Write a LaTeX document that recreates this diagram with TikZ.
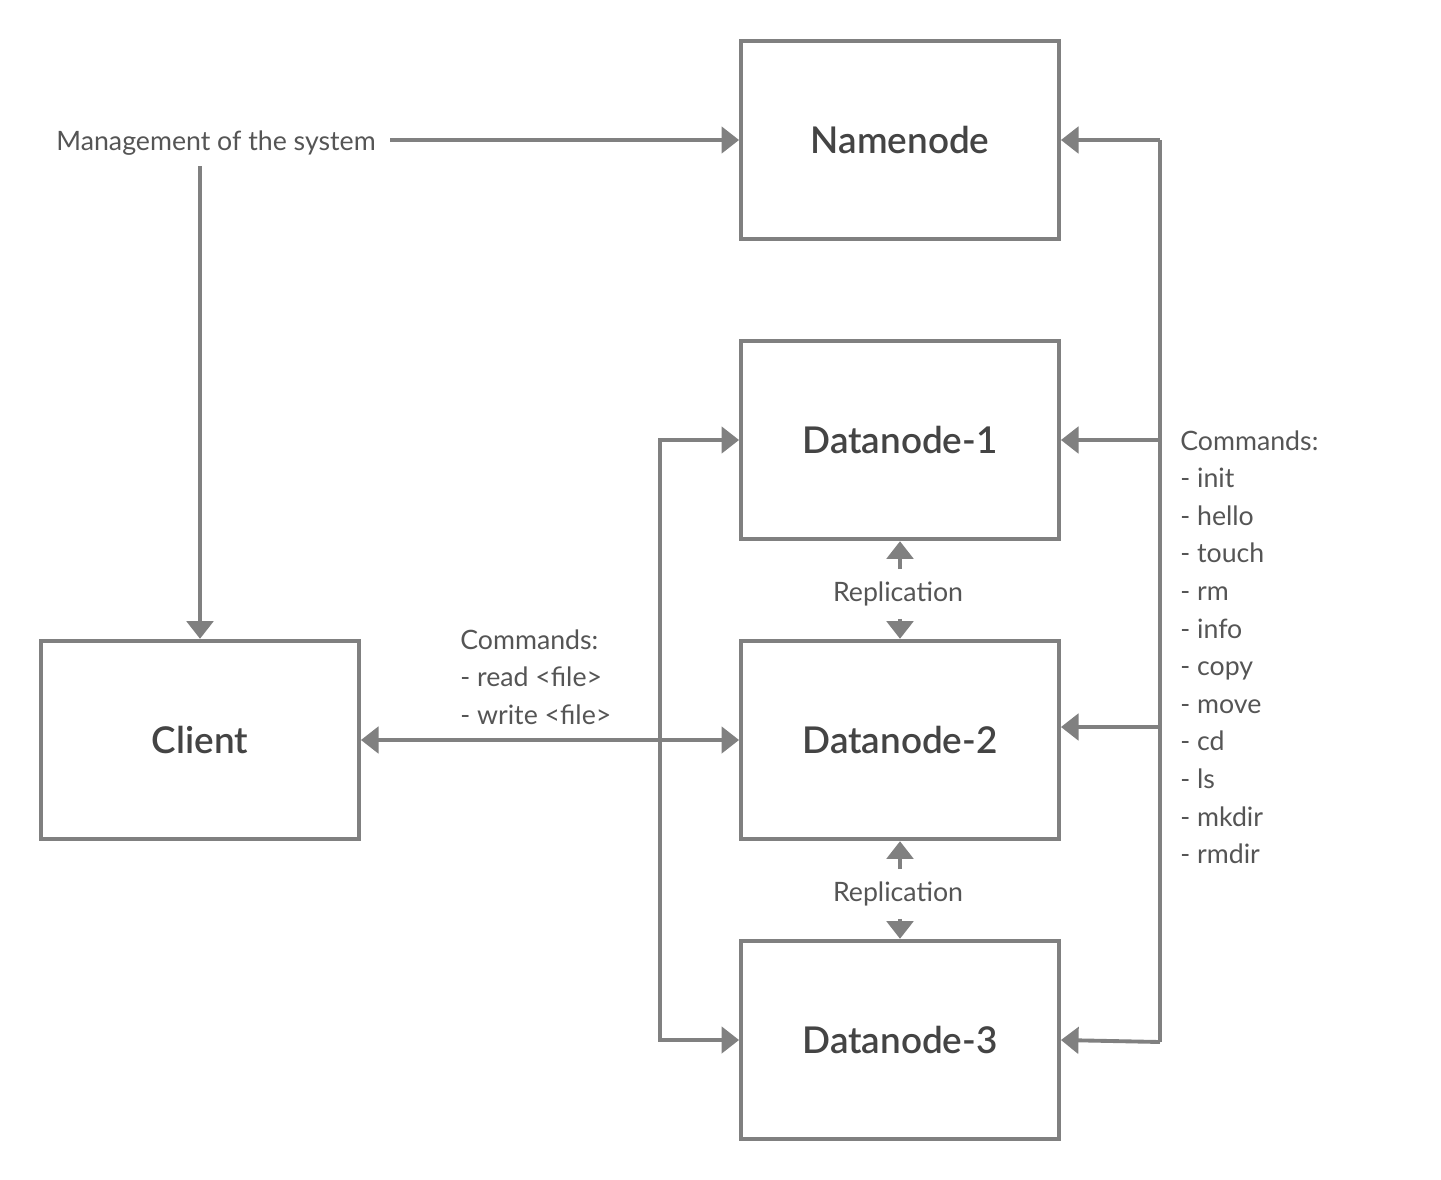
\documentclass[tikz,border=0pt]{standalone}
\usepackage{fontspec}
\setmainfont{Lato}
\newfontface\semibold{Lato Semibold}
\usetikzlibrary{arrows.meta}

\definecolor{linegray}{HTML}{808080}
\definecolor{textgray}{HTML}{444444}
\definecolor{lblgray}{HTML}{555555}

\tikzset{
  box/.style={draw=linegray, line width=2.2pt, minimum width=181pt, minimum height=113pt,
    inner sep=0pt, text=textgray, font=\fontsize{21}{25}\semibold},
  lbl/.style={text=lblgray, font=\fontsize{15.2}{21.4}\selectfont, inner sep=0pt},
  conn/.style={draw=linegray, line width=2.2pt, arrows={-Triangle[length=10pt, width=15pt]}},
  both/.style={draw=linegray, line width=2.2pt, arrows={Triangle[length=10pt, width=15pt]-Triangle[length=10pt, width=15pt]}},
}

\begin{document}
\begin{tikzpicture}[x=0.02cm, y=-0.02cm]
      \useasboundingbox (0,0) rectangle (1441,1180);
      % boxes
      \node[box] (nn) at (900, 140) {Namenode};
      \node[box] (dn1) at (900, 440) {Datanode-1};
      \node[box] (dn2) at (900, 740) {Datanode-2};
      \node[box] (dn3) at (900, 1040) {Datanode-3};
      \node[box] (cl) at (200, 740) {Client};
      % labels
      \node[lbl] (mgmt) at (216, 143) {Management of the system};
      \node[lbl] (rep1) at (898, 594) {Replication};
      \node[lbl] (rep2) at (898, 894) {Replication};
      \node[lbl, anchor=north west, align=left] (cmdl) at (460, 629) {Commands:\\- read <file>\\- write <file>};
      \node[lbl, anchor=north west, align=left] (cmdr) at (1180, 430)
        {Commands:\\- init\\- hello\\- touch\\- rm\\- info\\- copy\\- move\\- cd\\- ls\\- mkdir\\- rmdir};
      % corner points
      \coordinate (l1) at (660, 440);
      \coordinate (l3) at (660, 1040);
      \coordinate (r0) at (1160, 140);
      \coordinate (r1) at (1160, 440);
      \coordinate (r2) at (1160, 727);
      \coordinate (r3) at (1160, 1042);
      % connectors
      \draw[conn] ([xshift=8pt]mgmt.east |- nn.west) -- (nn.west);
      \draw[conn] ([yshift=-6pt]mgmt.south -| cl.north) -- (cl.north);
      \draw[both] (cl.east) -- (dn2.west);
      \draw[both] (dn1.west) -- (l1) -- (l3) -- (dn3.west);
      \draw[draw=linegray, line width=2.2pt] (r0) -- (r3);
      \draw[conn] (r0) -- (nn.east);
      \draw[conn] (r1) -- (dn1.east);
      \draw[conn] (r2) -- (r2 -| dn2.east);
      \draw[conn] (r3) -- (dn3.east);
      \draw[conn] ([yshift=7pt]rep1.north -| dn1.south) -- (dn1.south);
      \draw[conn] ([yshift=-7pt]rep1.south -| dn2.north) -- (dn2.north);
      \draw[conn] ([yshift=7pt]rep2.north -| dn2.south) -- (dn2.south);
      \draw[conn] ([yshift=-7pt]rep2.south -| dn3.north) -- (dn3.north);
    \end{tikzpicture}
\end{document}
